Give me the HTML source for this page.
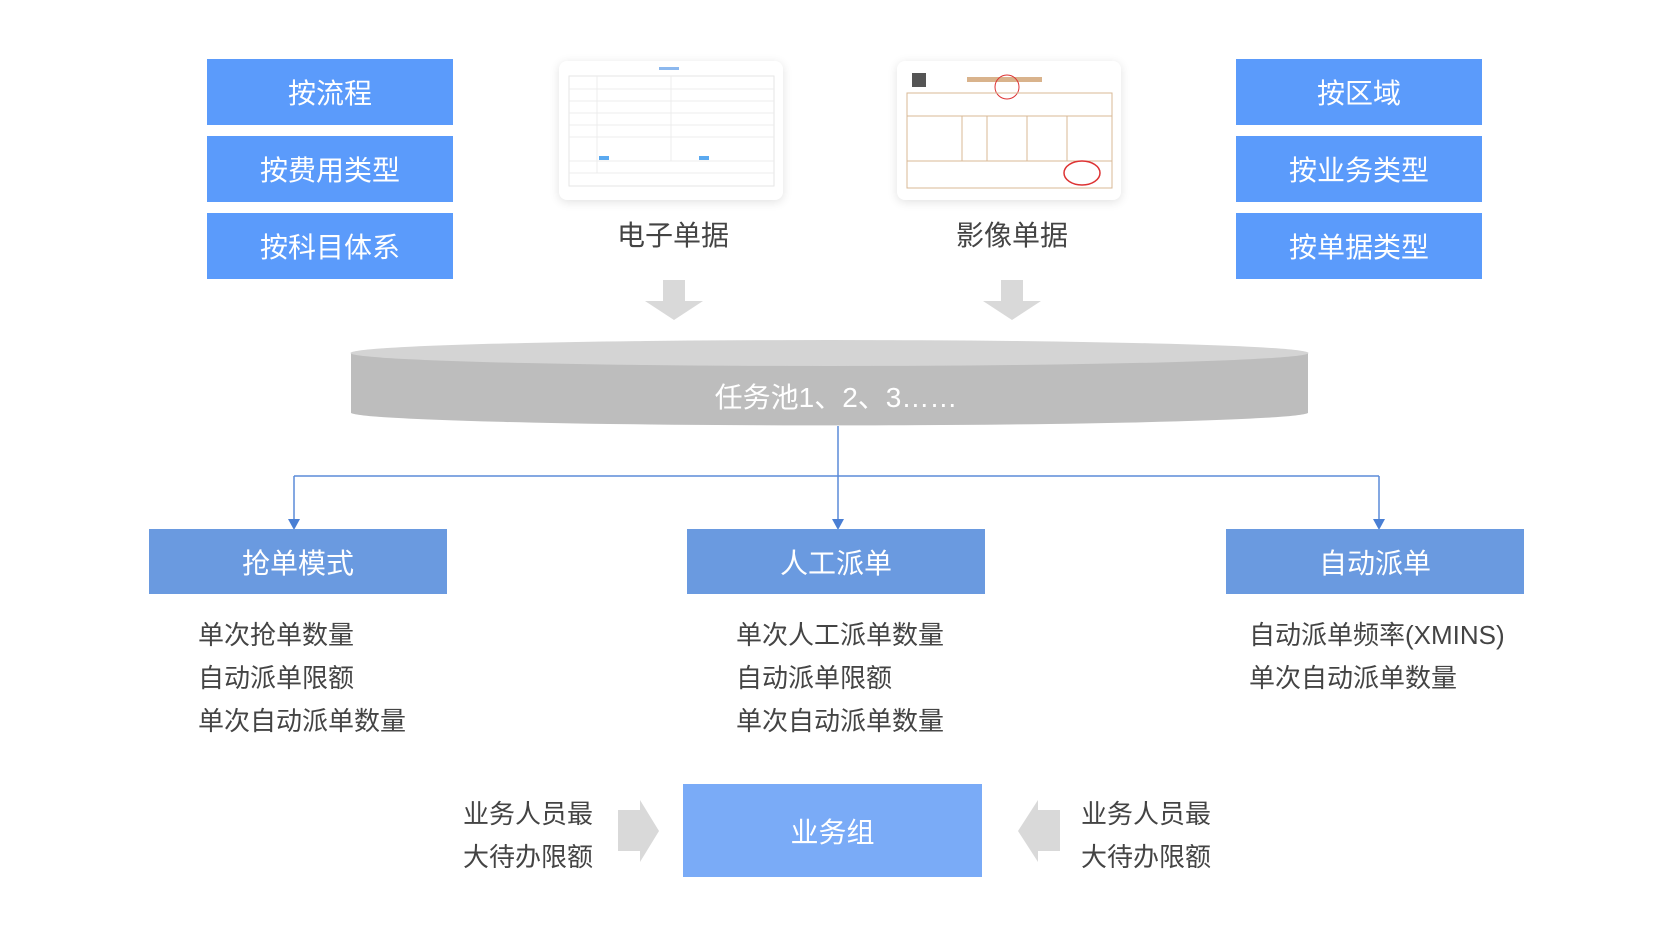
<!DOCTYPE html>
<html><head><meta charset="utf-8"><style>
body{margin:0;width:1670px;height:937px;background:#fff;position:relative;overflow:hidden;font-family:"Liberation Sans","Noto Sans CJK SC",sans-serif}
.b{position:absolute;color:#fff;display:flex;align-items:center;justify-content:center;font-size:28px}
.bl{background:#5b9bfb;width:246px;height:66px}
.m{background:#6a9ae0;width:298px;height:65px;top:529px}
.t{position:absolute;color:#444;font-size:26px;line-height:43px;white-space:nowrap}
.card{position:absolute;width:224px;height:139px;top:61px;background:#fff;border-radius:8px;box-shadow:0 2px 10px rgba(0,0,0,.12);overflow:hidden}
</style></head><body>
<div class="b bl" style="left:207px;top:59px">按流程</div>
<div class="b bl" style="left:207px;top:136px">按费用类型</div>
<div class="b bl" style="left:207px;top:213px">按科目体系</div>
<div class="b bl" style="left:1236px;top:59px">按区域</div>
<div class="b bl" style="left:1236px;top:136px">按业务类型</div>
<div class="b bl" style="left:1236px;top:213px">按单据类型</div>

<div class="card" style="left:559px"><svg width="224" height="139">
<rect x="10" y="15" width="205" height="110" fill="none" stroke="#e6e6e6"/>
<g stroke="#ececec"><line x1="10" y1="28" x2="215" y2="28"/><line x1="10" y1="40" x2="215" y2="40"/><line x1="10" y1="52" x2="215" y2="52"/><line x1="10" y1="64" x2="215" y2="64"/><line x1="10" y1="76" x2="215" y2="76"/><line x1="10" y1="100" x2="215" y2="100"/><line x1="10" y1="112" x2="215" y2="112"/><line x1="38" y1="15" x2="38" y2="112"/><line x1="112" y1="15" x2="112" y2="100"/></g>
<rect x="100" y="6" width="20" height="3" fill="#8cb8ee"/><rect x="40" y="95" width="10" height="4" fill="#5aa9f0"/><rect x="140" y="95" width="10" height="4" fill="#5aa9f0"/></svg></div>
<div class="card" style="left:897px"><svg width="224" height="139">
<rect x="15" y="12" width="14" height="14" fill="#555"/><rect x="70" y="16" width="75" height="5" fill="#d9b38c"/>
<circle cx="110" cy="26" r="12" fill="none" stroke="#d33"/>
<rect x="10" y="32" width="205" height="95" fill="none" stroke="#d8b896"/>
<g stroke="#d8b896"><line x1="10" y1="55" x2="215" y2="55"/><line x1="10" y1="100" x2="215" y2="100"/><line x1="65" y1="55" x2="65" y2="100"/><line x1="90" y1="55" x2="90" y2="100"/><line x1="130" y1="55" x2="130" y2="100"/><line x1="170" y1="55" x2="170" y2="100"/></g>
<ellipse cx="185" cy="112" rx="18" ry="12" fill="none" stroke="#d33" stroke-width="1.5"/></svg></div>
<div class="t" style="left:613px;top:214px;font-size:28px;width:120px;text-align:center">电子单据</div>
<div class="t" style="left:952px;top:214px;font-size:28px;width:120px;text-align:center">影像单据</div>

<svg style="position:absolute;left:0;top:0" width="1670" height="937">
<g fill="#d9d9d9">
<polygon points="663,280 685,280 685,301 703,301 674,320 645,301 663,301"/>
<polygon points="1001,280 1023,280 1023,301 1041,301 1012,320 983,301 1001,301"/>
<polygon points="618,810 640,810 640,800 659,831 640,862 640,851 618,851"/>
<polygon points="1060,810 1038,810 1038,800 1018,831 1038,862 1038,851 1060,851"/>
</g>
<path d="M351,353 L351,413 A479,13 0 0 0 1308,413 L1308,353 Z" fill="#bdbdbd"/>
<ellipse cx="829.5" cy="353" rx="479" ry="13" fill="#d4d4d4"/>
<g stroke="#5b8bd9" stroke-width="1.5" fill="none">
<line x1="838" y1="426" x2="838" y2="522"/><line x1="294" y1="476" x2="1379" y2="476"/>
<line x1="294" y1="476" x2="294" y2="522"/><line x1="1379" y1="476" x2="1379" y2="522"/></g>
<g fill="#4a7fd4"><polygon points="288,519 300,519 294,530"/><polygon points="832,519 844,519 838,530"/><polygon points="1373,519 1385,519 1379,530"/></g>
</svg>
<div class="b" style="left:351px;top:376px;width:970px;height:40px">任务池1、2、3……</div>

<div class="b m" style="left:149px">抢单模式</div>
<div class="b m" style="left:687px">人工派单</div>
<div class="b m" style="left:1226px">自动派单</div>
<div class="t" style="left:198px;top:614px">单次抢单数量<br>自动派单限额<br>单次自动派单数量</div>
<div class="t" style="left:736px;top:614px">单次人工派单数量<br>自动派单限额<br>单次自动派单数量</div>
<div class="t" style="left:1249px;top:614px">自动派单频率(XMINS)<br>单次自动派单数量</div>

<div class="b" style="left:683px;top:784px;width:299px;height:93px;background:#7aabf7">业务组</div>
<div class="t" style="left:463px;top:793px">业务人员最<br>大待办限额</div>
<div class="t" style="left:1081px;top:793px">业务人员最<br>大待办限额</div>
</body></html>
